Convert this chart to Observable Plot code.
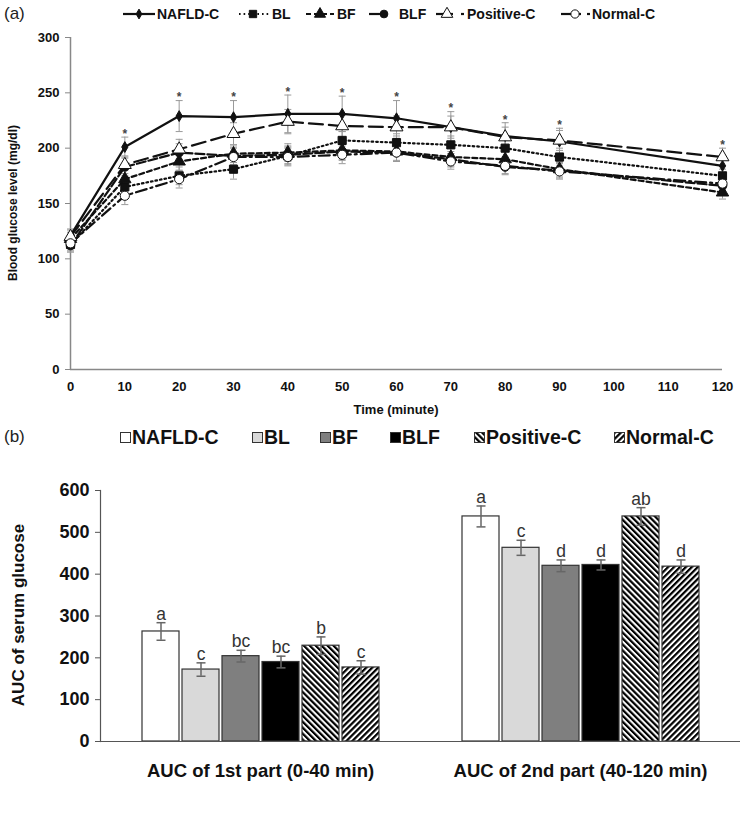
<!DOCTYPE html>
<html><head><meta charset="utf-8">
<script src="https://cdn.jsdelivr.net/npm/d3@7"></script>
<script src="https://cdn.jsdelivr.net/npm/@observablehq/plot@0.6"></script>
<style>
html,body{margin:0;padding:0;background:#fff;}
#root{position:relative;width:742px;height:814px;overflow:hidden;font-family:"Liberation Sans",Arial,sans-serif;color:#111;}
.abs{position:absolute;white-space:nowrap;}
.tag{font-size:17px;line-height:20px;color:#222;}
.lega{font-weight:bold;font-size:14px;line-height:16px;}
.legb{font-weight:bold;font-size:19.5px;line-height:22px;}
.rot{transform:translate(-50%,-50%) rotate(-90deg);font-weight:bold;}
.abs svg{display:block;}
</style></head><body>
<svg width="0" height="0" style="position:absolute">
<defs>
<pattern id="pPos" patternUnits="userSpaceOnUse" width="4.2" height="4.2" patternTransform="rotate(-45)"><rect width="4.2" height="4.2" fill="white"/><rect width="2.2" height="4.2" fill="black"/></pattern>
<pattern id="pNorm" patternUnits="userSpaceOnUse" width="4.2" height="4.2" patternTransform="rotate(45)"><rect width="4.2" height="4.2" fill="white"/><rect width="2.2" height="4.2" fill="black"/></pattern>
</defs></svg>
<div id="root"></div>
<script>
// ---------- data: panel (a) ----------
const times = [0, 10, 20, 30, 40, 50, 60, 70, 80, 90, 120];
const seriesNames = ["NAFLD-C", "BL", "BF", "BLF", "Positive-C", "Normal-C"];
const nafldC     = [121, 201, 229, 228, 231, 231, 227, 219, 211, 206, 184];
const nafldCErr  = [6, 9, 14, 15, 17, 16, 16, 14, 12, 12, 9];
const bl         = [113, 165, 175, 181, 193, 207, 205, 203, 200, 192, 175];
const blErr      = [6, 8, 8, 9, 8, 8, 8, 8, 8, 8, 6];
const bf         = [118, 172, 188, 195, 196, 198, 197, 192, 190, 181, 160];
const bfErr      = [6, 8, 8, 8, 8, 8, 8, 8, 7, 7, 6];
const blf        = [112, 183, 196, 193, 194, 197, 196, 190, 183, 180, 166];
const blfErr     = [6, 8, 8, 8, 8, 8, 8, 7, 7, 7, 6];
const positiveC  = [120, 185, 199, 213, 224, 220, 219, 219, 210, 207, 192];
const positiveCErr = [6, 8, 9, 10, 11, 10, 10, 10, 9, 9, 8];
const normalC    = [114, 157, 172, 192, 192, 194, 196, 188, 184, 179, 168];
const normalCErr = [6, 8, 8, 8, 8, 8, 8, 7, 7, 7, 6];
const sigTimes = [10, 20, 30, 40, 50, 60, 70, 80, 90, 120];

// ---------- data: panel (b) ----------
const aucGroups = ["AUC of 1st part (0-40 min)", "AUC of 2nd part (40-120 min)"];
const auc1    = [263, 172, 204, 190, 229, 177];
const auc1Err = [21, 16, 14, 14, 21, 16];
const auc1Letters = ["a", "c", "bc", "bc", "b", "c"];
const auc2    = [538, 463, 420, 422, 538, 418];
const auc2Err = [25, 18, 14, 12, 21, 16];
const auc2Letters = ["a", "c", "d", "d", "ab", "d"];

// ---------- styles ----------
const lineDash = [null, "1.6,3", "5,3", "9,3", "14,6", "11,4,2,4"];
const symbols = ["diamond", "square", "triangle", "circle", "triangle", "circle"];
const symFill = ["#111", "#111", "#111", "#111", "white", "white"];
const symR = [3.3, 4.6, 4.6, 4.3, 4.8, 4.6];
const barFills = ["white", "#d9d9d9", "#7f7f7f", "#000000", "url(#pPos)", "url(#pNorm)"];
const FONT = "'Liberation Sans', Arial, sans-serif";

const valuesA = [nafldC, bl, bf, blf, positiveC, normalC];
const errsA = [nafldCErr, blErr, bfErr, blfErr, positiveCErr, normalCErr];
const rowsA = [];
seriesNames.forEach((s, i) => times.forEach((t, j) =>
  rowsA.push({series: s, i, time: t, value: valuesA[i][j], err: errsA[i][j]})));
const topAt = t => d3.max(rowsA.filter(d => d.time === t), d => d.value + d.err);

const rowsB = [];
[[auc1, auc1Err, auc1Letters], [auc2, auc2Err, auc2Letters]].forEach(([v, e, l], g) =>
  seriesNames.forEach((s, i) => rowsB.push({group: aucGroups[g], series: s, i, value: v[i], err: e[i], letter: l[i]})));

const capSymbol = {draw(ctx, size) { const r = Math.sqrt(size / Math.PI); ctx.moveTo(-r, 0); ctx.lineTo(r, 0); }};

const root = document.getElementById("root");
function add(html, cls, style) {
  const d = document.createElement("div");
  d.className = "abs " + (cls || "");
  Object.assign(d.style, style);
  d.innerHTML = html;
  root.appendChild(d);
  return d;
}

// ---------- panel (a) ----------
const marksA = [
  Plot.ruleY([0], {stroke: "#888", strokeWidth: 1.5}),
  Plot.ruleX([0], {stroke: "#888", strokeWidth: 1.5}),
  Plot.ruleX(rowsA, {x: "time", y1: d => d.value - d.err, y2: d => d.value + d.err, stroke: "#9a9a9a", strokeWidth: 1}),
  Plot.dot(rowsA, {x: "time", y: d => d.value + d.err, symbol: capSymbol, r: 3.5, fill: "none", stroke: "#9a9a9a", strokeWidth: 1}),
  Plot.dot(rowsA, {x: "time", y: d => d.value - d.err, symbol: capSymbol, r: 3.5, fill: "none", stroke: "#9a9a9a", strokeWidth: 1}),
];
seriesNames.forEach((s, i) => {
  marksA.push(Plot.line(rowsA.filter(d => d.i === i), {x: "time", y: "value", stroke: "#111", strokeWidth: 2.2, strokeDasharray: lineDash[i] || undefined}));
});
seriesNames.forEach((s, i) => {
  marksA.push(Plot.dot(rowsA.filter(d => d.i === i), {x: "time", y: "value", symbol: symbols[i], r: symR[i], fill: symFill[i], stroke: "#111", strokeWidth: 1}));
});
marksA.push(Plot.text(sigTimes, {x: d => d, y: d => topAt(d), text: () => "*", dy: -3, fontSize: 12, fill: "#444"}));
marksA.push(Plot.axisY({ticks: 6, tickSize: 5, tickPadding: 6, stroke: "#888", fill: "#111", label: null}));
marksA.push(Plot.axisX({ticks: 12, tickSize: 0, tickPadding: 12, fill: "#111", label: null}));

const plotA = Plot.plot({
  width: 742, height: 372,
  marginLeft: 70, marginRight: 20, marginTop: 9, marginBottom: 31,
  x: {domain: [0, 120]},
  y: {domain: [0, 300]},
  style: {fontFamily: FONT, fontSize: "13px", fontWeight: "bold", background: "transparent", overflow: "visible", color: "#111"},
  marks: marksA
});
add("", "", {left: "0px", top: "28px"}).appendChild(plotA);

add("(a)", "tag", {left: "4px", top: "4px"});
add("Blood glucose level (mg/dl)", "rot", {left: "13px", top: "203px", fontSize: "12px"});
add("Time (minute)", "", {left: "396px", top: "409px", transform: "translate(-50%,-50%)", fontWeight: "bold", fontSize: "13px"});

// legend (a)
function symPath(i, r) {
  const type = {diamond: d3.symbolDiamond, square: d3.symbolSquare, triangle: d3.symbolTriangle, circle: d3.symbolCircle}[symbols[i]];
  return d3.symbol(type, Math.PI * r * r)();
}
const legA = [
  {left: 123, w: 32, mx: 16, textLeft: 157, lines: [[0, 32]]},
  {left: 239, w: 30, mx: 14, textLeft: 272, lines: [[0, 30]]},
  {left: 306, w: 28, mx: 14, textLeft: 337, lines: [[0, 28]]},
  {left: 369, w: 18, mx: 15, textLeft: 399, lines: [[0, 15]]},
  {left: 436, w: 29, mx: 11, textLeft: 467, lines: [[0, 17], [25, 28]]},
  {left: 561, w: 29, mx: 14, textLeft: 592, lines: [[0, 20], [26, 29]]},
];
legA.forEach((L, i) => {
  const dash = (i === 1 || i === 2) ? lineDash[i] : null;
  const segs = L.lines.map(([a, b]) => `<line x1="${a}" x2="${b}" y1="7" y2="7" stroke="#111" stroke-width="2.2" ${dash ? `stroke-dasharray="${dash}"` : ""}/>`).join("");
  const r = symR[i] * 0.9;
  const svg = `<svg width="${L.w + 2}" height="14">${segs}<path transform="translate(${L.mx},7)" d="${symPath(i, r)}" fill="${symFill[i]}" stroke="#111" stroke-width="1"/></svg>`;
  add(svg, "", {left: L.left + "px", top: "7px"});
  add(seriesNames[i], "lega", {left: L.textLeft + "px", top: "6px"});
});

// ---------- panel (b) ----------
const marksB = [
  Plot.frame({anchor: "left", facetAnchor: "left", stroke: "#555", strokeWidth: 1.2}),
];
seriesNames.forEach((s, i) => {
  marksB.push(Plot.barY(rowsB.filter(d => d.i === i), {fx: "group", x: "series", y: "value", fill: barFills[i], stroke: "#333", strokeWidth: 1.2}));
});
marksB.push(
  Plot.ruleY([0], {stroke: "#555", strokeWidth: 1.2}),
  Plot.ruleX(rowsB, {fx: "group", x: "series", y1: d => d.value - d.err, y2: d => d.value + d.err, stroke: "#666", strokeWidth: 1.5}),
  Plot.dot(rowsB, {fx: "group", x: "series", y: d => d.value + d.err, symbol: capSymbol, r: 4.5, fill: "none", stroke: "#666", strokeWidth: 1.5}),
  Plot.dot(rowsB, {fx: "group", x: "series", y: d => d.value - d.err, symbol: capSymbol, r: 4.5, fill: "none", stroke: "#666", strokeWidth: 1.5}),
  Plot.text(rowsB, {fx: "group", x: "series", y: d => d.value + d.err, text: "letter", dy: -3, lineAnchor: "bottom", fontSize: 17.5, fontWeight: "normal", fill: "#333"}),
  Plot.axisY({ticks: 6, tickSize: 5, tickPadding: 6, stroke: "#555", fill: "#111", fontSize: 18, label: null}),
  Plot.axisFx({anchor: "bottom", tickSize: 0, tickPadding: 22, fill: "#111", fontSize: 18.5, label: null})
);
const plotB = Plot.plot({
  width: 742, height: 311,
  marginLeft: 100, marginRight: 2, marginTop: 10, marginBottom: 50,
  fx: {domain: aucGroups, padding: 0},
  x: {domain: seriesNames, paddingInner: 0.075, paddingOuter: 1, axis: null},
  y: {domain: [0, 600]},
  style: {fontFamily: FONT, fontSize: "17px", fontWeight: "bold", background: "transparent", overflow: "visible", color: "#111"},
  marks: marksB
});
add("", "", {left: "0px", top: "480px"}).appendChild(plotB);

add("(b)", "tag", {left: "4px", top: "427px"});
add("AUC of serum glucose", "rot", {left: "19px", top: "615px", fontSize: "17px"});

const legB = [120, 252, 320, 390, 474, 614];
legB.forEach((x, i) => {
  add(`<svg width="11" height="11"><rect x="0.5" y="0.5" width="10" height="10" fill="${barFills[i]}" stroke="#333" stroke-width="1"/></svg>`, "", {left: x + "px", top: "432px"});
  add(seriesNames[i], "legb", {left: (x + 12) + "px", top: "426px"});
});
</script></body></html>
